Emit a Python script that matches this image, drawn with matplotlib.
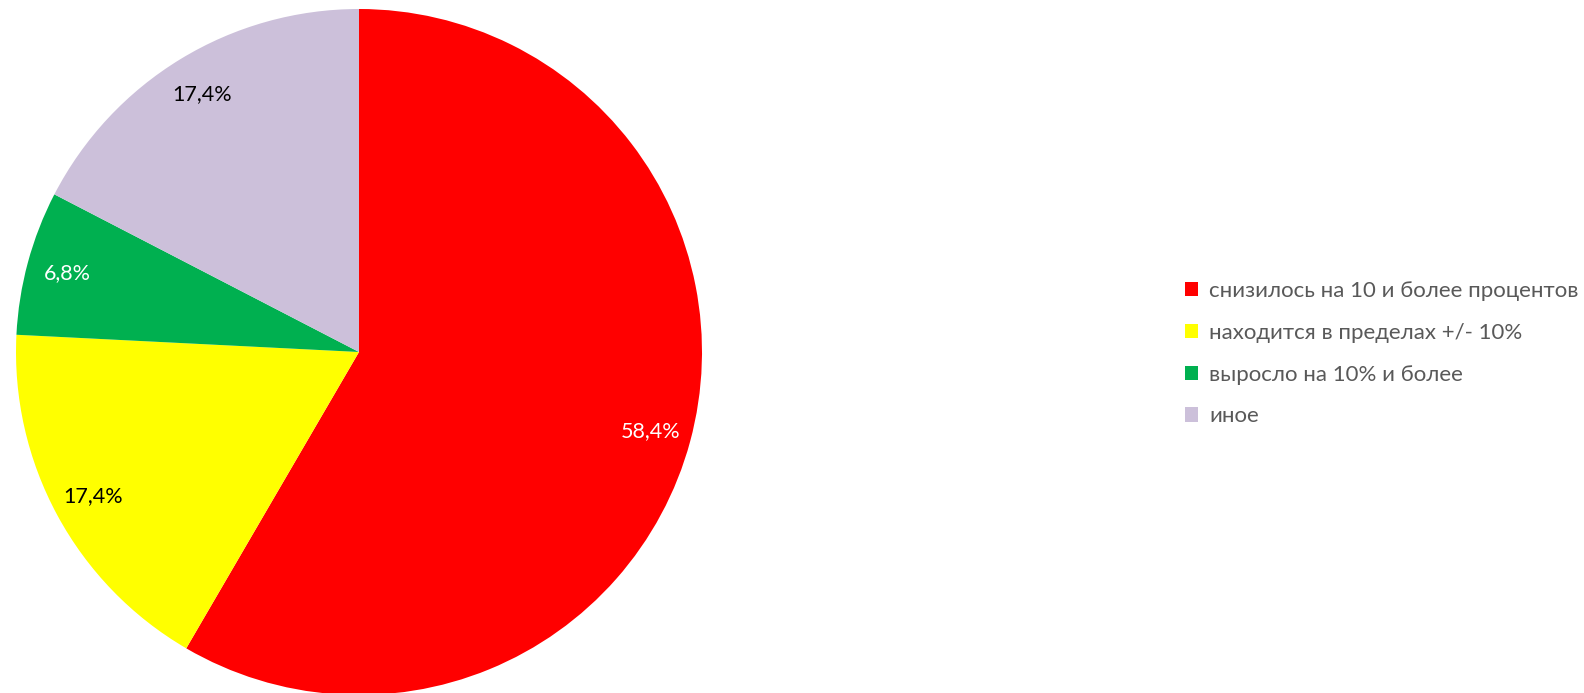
import matplotlib
matplotlib.use('Agg')
import matplotlib.pyplot as plt

plt.rcParams['font.family'] = ['Lato', 'DejaVu Sans']

# Данные диаграммы
categories = ['снизилось на 10 и более процентов', 'находится в пределах +/- 10%',
              'выросло на 10% и более', 'иное']
shares = [58.4, 17.4, 6.8, 17.4]
colors = ['#FF0000', '#FFFF00', '#00B050', '#CCC0DA']
label_colors = ['white', 'black', 'white', 'black']

W, H = 1584, 693
fig = plt.figure(figsize=(W / 100, H / 100), dpi=100)

cx, cy, r = 359, 352, 343
ax = fig.add_axes([(cx - r) / W, (H - cy - r) / H, 2 * r / W, 2 * r / H])

wedges, texts, autotexts = ax.pie(shares, colors=colors, startangle=90, counterclock=False,
                                  autopct=lambda p: f'{p:.1f}%'.replace('.', ','),
                                  pctdistance=0.88, radius=1,
                                  wedgeprops=dict(linewidth=0),
                                  textprops=dict(fontsize=15.5))
for t, c in zip(autotexts, label_colors):
    t.set_color(c)
ax.set_xlim(-1, 1)
ax.set_ylim(-1, 1)
ax.set_aspect('equal')
ax.axis('off')

leg = fig.legend(wedges, categories, loc='upper left', bbox_to_anchor=(1185 / W, 1 - 281 / H),
                 frameon=False, fontsize=16, handlelength=0.6, handleheight=0.6,
                 handletextpad=0.5, labelspacing=0.98, borderpad=0, borderaxespad=0)
for t in leg.get_texts():
    t.set_color('#595959')

plt.savefig('out.png', dpi=100)
